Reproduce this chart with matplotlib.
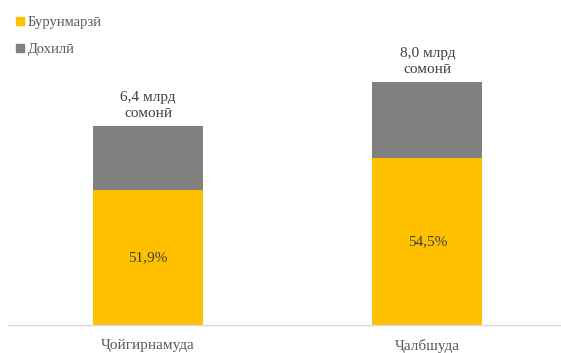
import numpy as np
import matplotlib
matplotlib.use('Agg')
import matplotlib.pyplot as plt
from matplotlib.lines import Line2D

plt.rcParams['font.family'] = ['Liberation Serif', 'DejaVu Serif']

categories = ['Ҷойгирнамуда', 'Ҷалбшуда']
burunmarzi = [4.43, 5.48]   # хориҷӣ
dokhili = [2.10, 2.49]
share_labels = ['51,9%', '54,5%']
total_labels = ['6,4 млрд\nсомонӣ', '8,0 млрд\nсомонӣ']

yellow = '#ffc000'
gray = '#808080'
txt = '#595959'

fig = plt.figure(figsize=(5.61, 3.53), dpi=100)
ax = fig.add_axes([8/561, 28/353, 553/561, 295/353])

x = np.arange(len(categories))
w = 0.394
ax.bar(x, burunmarzi, w, color=yellow, zorder=2)
ax.bar(x, dokhili, w, bottom=burunmarzi, color=gray, zorder=2)

for i in range(len(x)):
    ax.text(x[i], burunmarzi[i] / 2, share_labels[i], ha='center', va='center',
            fontsize=11, color='#404040')
    ax.text(x[i], burunmarzi[i] + dokhili[i] + 0.2, total_labels[i], ha='center',
            va='bottom', fontsize=11, color='#404040', linespacing=1.25)

ax.set_xlim(-0.501, 1.478)
ax.set_ylim(0, 295/30.5)
ax.set_xticks(x)
ax.set_xticklabels(categories, fontsize=11, color=txt)
ax.tick_params(axis='x', length=0, pad=10)
ax.set_yticks([])
for s in ['top', 'right', 'left']:
    ax.spines[s].set_visible(False)
ax.spines['bottom'].set_color('#d9d9d9')
ax.spines['bottom'].set_linewidth(1.0)

handles = [Line2D([], [], marker='s', linestyle='', color=yellow, markersize=6),
           Line2D([], [], marker='s', linestyle='', color=gray, markersize=6)]
fig.legend(handles, ['Бурунмарзӣ', 'Дохилӣ'], loc='upper left',
           bbox_to_anchor=(16/561, 1 - 16/353), frameon=False, fontsize=10.5,
           labelcolor=txt, handlelength=0.6, handletextpad=0.2,
           labelspacing=0.95, borderpad=0, borderaxespad=0)

fig.savefig('out.png', dpi=100)
